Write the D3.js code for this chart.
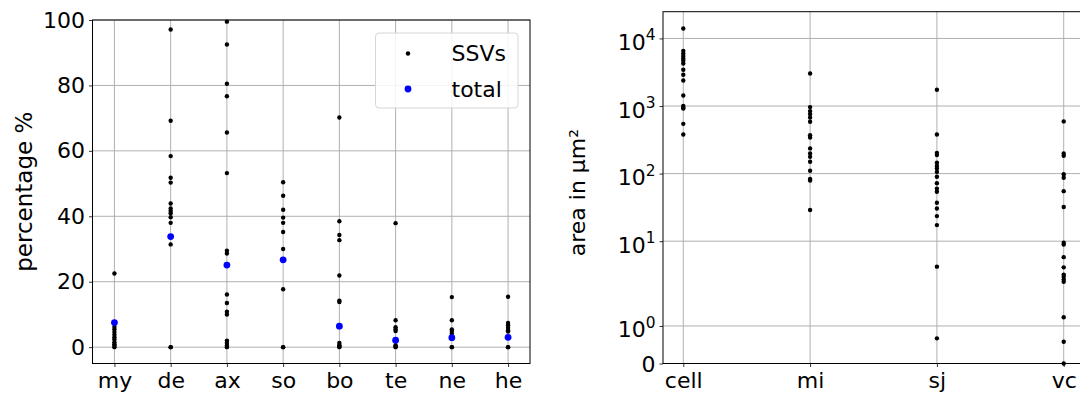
<!DOCTYPE html>
<html>
<head>
<meta charset="utf-8">
<script src="https://cdn.jsdelivr.net/npm/d3@7"></script>
<style>
  html, body { margin: 0; padding: 0; background: #fff; }
  svg { display: block; font-family: "DejaVu Sans", sans-serif; }
  text { fill: #000; }
</style>
</head>
<body>
<svg id="chart" width="1080" height="396"></svg>
<script>
// ---- percentage panel ----
const compartments = ["my", "de", "ax", "so", "bo", "te", "ne", "he"];
const ssvMy = [0, 0.4, 0.9, 1.5, 2.3, 3.0, 3.8, 4.6, 5.5, 6.2, 22.5];
const ssvDe = [0, 0, 31.4, 38.0, 39.7, 40.9, 41.6, 42.4, 43.9, 50.3, 51.8, 58.4, 69.2, 97.1];
const ssvAx = [0, 0.5, 1.3, 2.0, 10.0, 10.8, 13.5, 16.1, 28.6, 29.5, 53.2, 65.6, 76.7, 80.5, 92.5, 99.5];
const ssvSo = [0, 0, 17.7, 30.0, 35.2, 38.0, 39.6, 42.0, 46.3, 50.4];
const ssvBo = [0, 0.3, 0.6, 1.3, 13.8, 14.2, 21.9, 32.7, 34.3, 38.5, 70.2];
const ssvTe = [0, 0.3, 0.6, 4.9, 5.5, 6.1, 8.2, 37.9];
const ssvNe = [0, 0, 4.2, 4.9, 5.4, 8.2, 15.3];
const ssvHe = [0, 0, 4.8, 5.2, 5.9, 6.7, 7.4, 15.4];
const totalPct = [7.5, 33.8, 25.1, 26.7, 6.4, 2.1, 2.9, 3.0];
const pctTicks = [0, 20, 40, 60, 80, 100];

// ---- area panel ----
const structures = ["cell", "mi", "sj", "vc"];
const areaCell = [379, 545, 920, 945, 1000, 1430, 2390, 2900, 3440, 4270, 4670, 5060, 5480, 6000, 6560, 14060];
const areaMi = [29, 79, 83, 110, 150, 177, 199, 236, 343, 371, 585, 678, 760, 841, 964, 3030];
const areaSj = [0.67, 4.2, 17.3, 23.5, 30.5, 37, 54, 60, 72, 90, 106, 119, 130, 145, 188, 203, 379, 1740];
const areaVc = [0, 0.58, 1.23, 2.5, 2.7, 2.97, 3.2, 4.1, 5.8, 8.9, 9.5, 32, 55, 87, 98, 183, 199, 592];
const areaTicks = [0, 1, 10, 100, 1000, 10000];
const areaTickLabels = [["0", ""], ["10", "0"], ["10", "1"], ["10", "2"], ["10", "3"], ["10", "4"]];

const ssvGroups = [ssvMy, ssvDe, ssvAx, ssvSo, ssvBo, ssvTe, ssvNe, ssvHe];
const areaGroups = [areaCell, areaMi, areaSj, areaVc];

const svg = d3.select("#chart");
const FONT = 22;
const gridColor = "#b0b0b0";
const gridWidth = 1;

// symmetric log transform (linear below threshold, log10 above)
const LINTHRESH = 2;
const LINSCALE = 1 / (1 - 1 / 10);
function symT(v) {
  const a = Math.abs(v);
  const t = a <= LINTHRESH ? a * LINSCALE : LINTHRESH * (LINSCALE + Math.log10(a / LINTHRESH));
  return Math.sign(v) * t;
}

// ================= left panel =================
const L = { left: 92.5, right: 530, top: 20, bottom: 363.5 };
const xLin = d3.scaleLinear().domain([-0.39, 7.39]).range([L.left, L.right]);
const xPosL = c => xLin(compartments.indexOf(c));
const yL = d3.scaleLinear().domain([-5, 100]).range([L.bottom, L.top]);

const gL = svg.append("g");
// grid
gL.append("g").selectAll("line").data(pctTicks).join("line")
  .attr("x1", L.left).attr("x2", L.right)
  .attr("y1", d => yL(d)).attr("y2", d => yL(d))
  .attr("stroke", gridColor).attr("stroke-width", gridWidth);
gL.append("g").selectAll("line").data(compartments).join("line")
  .attr("x1", d => xPosL(d)).attr("x2", d => xPosL(d))
  .attr("y1", L.top).attr("y2", L.bottom)
  .attr("stroke", gridColor).attr("stroke-width", gridWidth);

// SSV points
const ssvPts = [];
compartments.forEach((c, i) => ssvGroups[i].forEach(v => ssvPts.push({ c, v })));
gL.append("g").selectAll("circle").data(ssvPts).join("circle")
  .attr("cx", d => xPosL(d.c)).attr("cy", d => yL(d.v)).attr("r", 2.2).attr("fill", "#000");
// totals
gL.append("g").selectAll("circle").data(compartments).join("circle")
  .attr("cx", d => xPosL(d)).attr("cy", (d, i) => yL(totalPct[i])).attr("r", 3.4).attr("fill", "#0000ff");

// axes
const axLeftL = gL.append("g").attr("transform", `translate(${L.left},0)`)
  .call(d3.axisLeft(yL).tickValues(pctTicks).tickSize(3.5).tickPadding(4));
const axBotL = gL.append("g").attr("transform", `translate(0,${L.bottom})`)
  .call(d3.axisBottom(xLin).tickValues(d3.range(compartments.length))
    .tickFormat(i => compartments[i]).tickSize(3.5).tickPadding(4));
[axLeftL, axBotL].forEach(a => {
  a.select(".domain").remove();
  a.selectAll(".tick line").attr("stroke", "#000").attr("stroke-width", 0.8);
  a.selectAll(".tick text").attr("font-size", FONT).attr("font-family", "DejaVu Sans").attr("fill", "#000");
});
axBotL.selectAll(".tick text").attr("dy", "0.78em");
gL.append("rect").attr("x", L.left).attr("y", L.top)
  .attr("width", L.right - L.left).attr("height", L.bottom - L.top)
  .attr("fill", "none").attr("stroke", "#000").attr("stroke-width", 1);

gL.append("text").attr("transform", `translate(32,${(L.top + L.bottom) / 2}) rotate(-90)`)
  .attr("text-anchor", "middle").attr("font-size", FONT + 1).text("percentage %");

// legend
const lg = gL.append("g");
lg.append("rect").attr("x", 375.5).attr("y", 33).attr("width", 142.5).attr("height", 75)
  .attr("rx", 3.5).attr("fill", "#fff").attr("fill-opacity", 0.85)
  .attr("stroke", "#d6d6d6").attr("stroke-width", 1);
const legendItems = [{ label: "SSVs", r: 2.2, color: "#000" }, { label: "total", r: 3.4, color: "#0000ff" }];
legendItems.forEach((it, i) => {
  const y = 53.5 + i * 35.5;
  lg.append("circle").attr("cx", 408).attr("cy", y).attr("r", it.r).attr("fill", it.color);
  lg.append("text").attr("x", 451.5).attr("y", y).attr("dy", "0.36em")
    .attr("font-size", FONT).text(it.label);
});

// ================= right panel =================
const R = { left: 663, right: 1084, top: 11.7, bottom: 363.5 };
const xRin = d3.scaleLinear().domain([-0.16, 3.16]).range([R.left, R.right]);
const xPosR = s => xRin(structures.indexOf(s));
const areaMax = d3.max(areaGroups.flat());
const yR = d3.scaleLinear().domain([0, symT(areaMax) * 1.05]).range([R.bottom, R.top]);
const yArea = v => yR(symT(v));

const gR = svg.append("g");
gR.append("g").selectAll("line").data(areaTicks).join("line")
  .attr("x1", R.left).attr("x2", R.right)
  .attr("y1", d => yArea(d)).attr("y2", d => yArea(d))
  .attr("stroke", gridColor).attr("stroke-width", gridWidth);
gR.append("g").selectAll("line").data(structures).join("line")
  .attr("x1", d => xPosR(d)).attr("x2", d => xPosR(d))
  .attr("y1", R.top).attr("y2", R.bottom)
  .attr("stroke", gridColor).attr("stroke-width", gridWidth);

const areaPts = [];
structures.forEach((s, i) => areaGroups[i].forEach(v => areaPts.push({ s, v })));
gR.append("g").selectAll("circle").data(areaPts).join("circle")
  .attr("cx", d => xPosR(d.s)).attr("cy", d => yArea(d.v)).attr("r", 2.2).attr("fill", "#000");

// y axis with superscript labels
const axLeftR = gR.append("g").attr("transform", `translate(${R.left},0)`)
  .call(d3.axisLeft(yR).tickValues(areaTicks.map(symT)).tickSize(3.5).tickPadding(4).tickFormat(""));
axLeftR.selectAll(".tick text").each(function (d, i) {
  const t = d3.select(this).attr("font-size", FONT).attr("font-family", "DejaVu Sans").attr("fill", "#000");
  const [base, sup] = areaTickLabels[i];
  t.append("tspan").text(base);
  if (sup) t.append("tspan").attr("font-size", FONT * 0.7).attr("dy", "-0.62em").text(sup);
});
axLeftR.selectAll(".tick text").attr("dy", function (d, i) { return areaTickLabels[i][1] ? "0.5em" : "0.36em"; });
const axBotR = gR.append("g").attr("transform", `translate(0,${R.bottom})`)
  .call(d3.axisBottom(xRin).tickValues(d3.range(structures.length))
    .tickFormat(i => structures[i]).tickSize(3.5).tickPadding(4));
[axLeftR, axBotR].forEach(a => {
  a.select(".domain").remove();
  a.selectAll(".tick line").attr("stroke", "#000").attr("stroke-width", 0.8);
});
axBotR.selectAll(".tick text").attr("font-size", FONT).attr("font-family", "DejaVu Sans").attr("fill", "#000").attr("dy", "0.78em");
gR.append("rect").attr("x", R.left).attr("y", R.top)
  .attr("width", R.right - R.left).attr("height", R.bottom - R.top)
  .attr("fill", "none").attr("stroke", "#000").attr("stroke-width", 1);

gR.append("text").attr("transform", `translate(585,${(R.top + R.bottom) / 2 + 5}) rotate(-90)`)
  .attr("text-anchor", "middle").attr("font-size", FONT).text("area in µm²");
</script>
</body>
</html>
